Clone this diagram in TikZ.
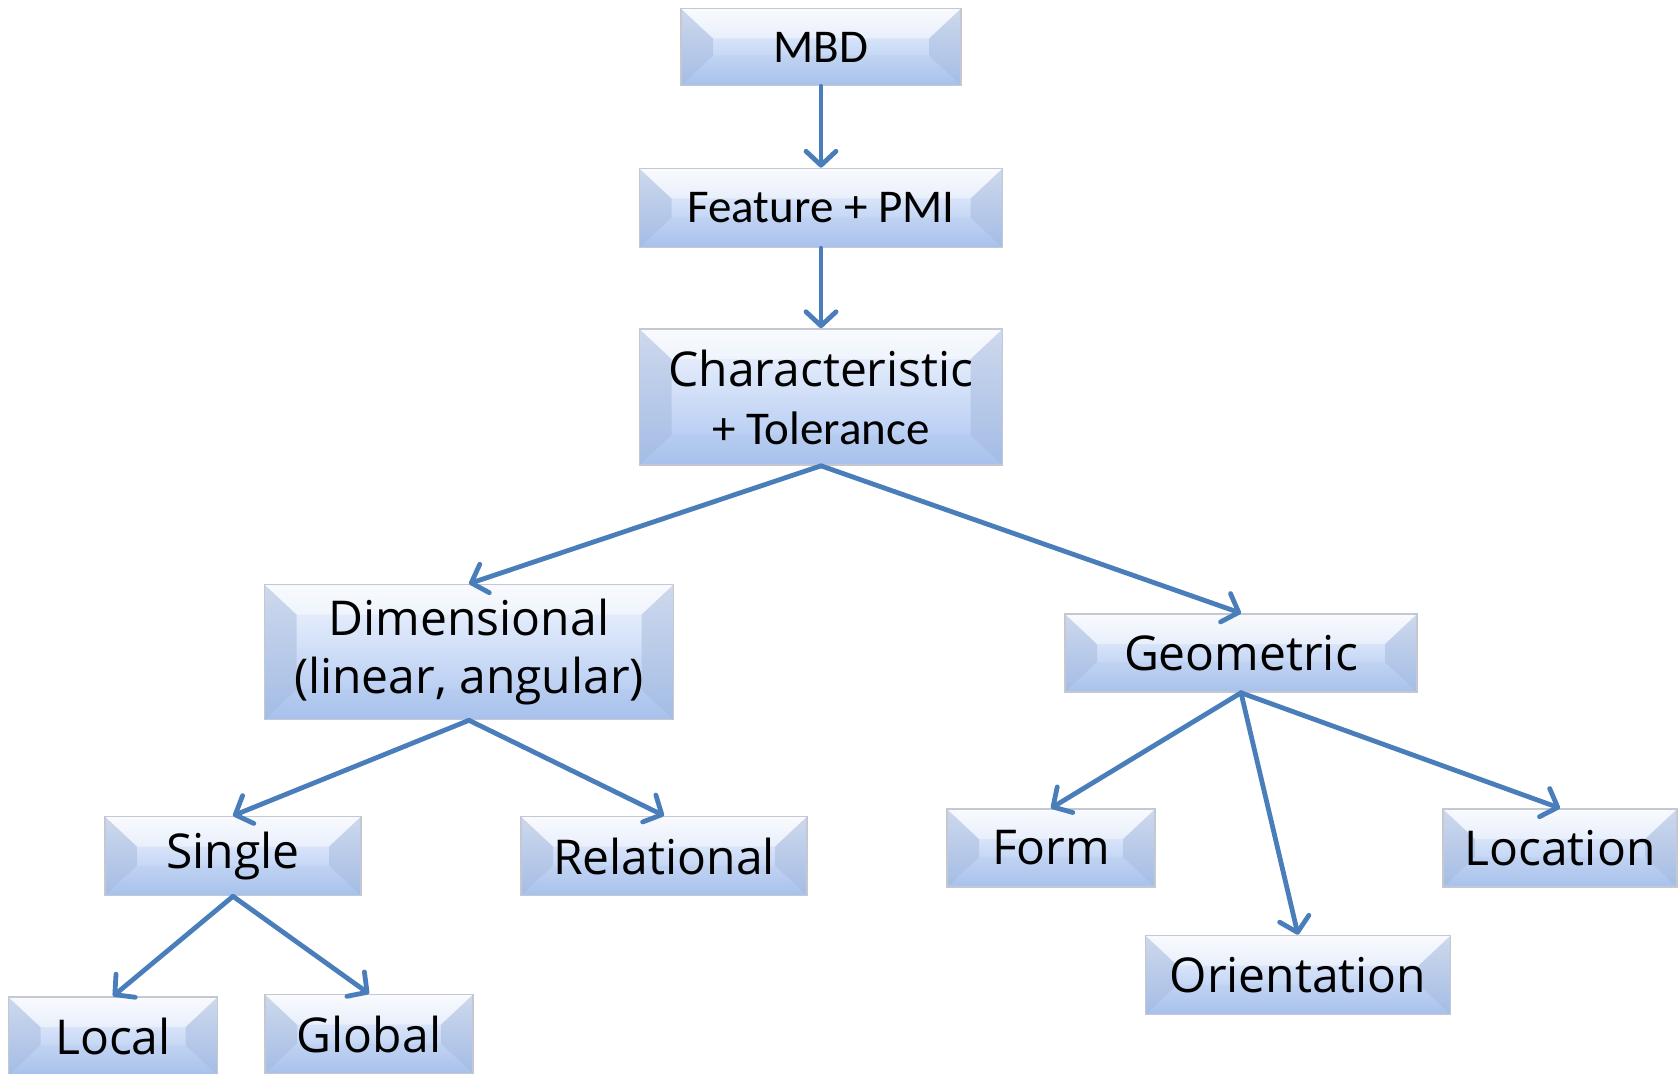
\documentclass[tikz,border=0pt]{standalone}
\usepackage{fontspec}
\setmainfont{Open Sans}
\newfontfamily\calfont{Carlito}
\usetikzlibrary{arrows.meta,calc}
\definecolor{boxtop}{HTML}{F4F7FE}
\definecolor{boxbot}{HTML}{A9C4F0}
\definecolor{bevside}{HTML}{9FB4D8}
\definecolor{boxline}{HTML}{C4C8D0}
\definecolor{arrowblue}{HTML}{4A7EBB}
\tikzset{
  bevelbox/.style={draw=boxline, line width=0.8pt, top color=boxtop, bottom color=boxbot,
    inner sep=0pt, align=center, font=\fontsize{24}{29}\selectfont,
    path picture={
      \fill[bevside, opacity=0.45] let \p1=(path picture bounding box.south west),
        \p2=(path picture bounding box.north east) in
        (\x1,\y1) -- (\x1,\y2) -- (\x1+16pt,\y2-15pt) -- (\x1+16pt,\y1+15pt) -- cycle
        (\x2,\y1) -- (\x2,\y2) -- (\x2-16pt,\y2-15pt) -- (\x2-16pt,\y1+15pt) -- cycle;
      \fill[white, opacity=0.45] let \p1=(path picture bounding box.south west),
        \p2=(path picture bounding box.north east) in
        (\x1,\y2) -- (\x2,\y2) -- (\x2-16pt,\y2-15pt) -- (\x1+16pt,\y2-15pt) -- cycle;
      \fill[bevside, opacity=0.12] let \p1=(path picture bounding box.south west),
        \p2=(path picture bounding box.north east) in
        (\x1,\y1) -- (\x2,\y1) -- (\x2-16pt,\y1+15pt) -- (\x1+16pt,\y1+15pt) -- cycle;
    }},
  flow/.style={draw=arrowblue, line width=2.4pt, line cap=round,
    -{Straight Barb[round, length=7pt, width=15pt, line width=2.4pt]}}
}
\begin{document}
\begin{tikzpicture}[x=0.5pt, y=-0.5pt]
  \useasboundingbox (0,0) rectangle (1680,1074);

  % top chain
  \node[bevelbox, minimum width=140pt, minimum height=38.5pt, font=\calfont\fontsize{23.5}{28}\selectfont] (mbd) at (821,47) {MBD};
  \node[bevelbox, minimum width=181.5pt, minimum height=39.5pt, font=\calfont\fontsize{23.5}{28}\selectfont] (feat) at (821,208) {Feature + PMI};
  \node[bevelbox, minimum width=181.5pt, minimum height=68pt] (char) at (821,397)
    {Characteristic\\{\calfont\fontsize{23.5}{28}\selectfont + Tolerance}};

  % second level
  \node[bevelbox, minimum width=204.5pt, minimum height=67.5pt] (dim) at (469,652) {Dimensional\\(linear, angular)};
  \node[bevelbox, minimum width=176pt, minimum height=39pt] (geo) at (1241,653) {Geometric};

  % dimensional branch
  \node[bevelbox, minimum width=128pt, minimum height=39.5pt] (single) at (233,856) {Single};
  \node[bevelbox, minimum width=143pt, minimum height=39.5pt] (rel) at (664,856) {Relational};
  \node[bevelbox, minimum width=104.5pt, minimum height=39pt] (local) at (113,1036) {Local};
  \node[bevelbox, minimum width=104pt, minimum height=39.5pt] (global) at (369,1034) {Global};

  % geometric branch
  \node[bevelbox, minimum width=104pt, minimum height=39pt] (form) at (1051,848) {Form};
  \node[bevelbox, minimum width=117pt, minimum height=39pt] (loc) at (1560,848) {Location};
  \node[bevelbox, minimum width=152.5pt, minimum height=39.5pt] (orient) at (1298,975) {Orientation};

  % connectors
  \draw[flow] (mbd.south) -- (feat.north);
  \draw[flow] (feat.south) -- (char.north);
  \draw[flow] (char.south) -- (dim.north);
  \draw[flow] (char.south) -- (geo.north);
  \draw[flow] (dim.south) -- (single.north);
  \draw[flow] (dim.south) -- (rel.north);
  \draw[flow] (single.south) -- (local.north);
  \draw[flow] (single.south) -- (global.north);
  \draw[flow] (geo.south) -- (form.north);
  \draw[flow] (geo.south) -- (orient.north);
  \draw[flow] (geo.south) -- (loc.north);
\end{tikzpicture}
\end{document}
